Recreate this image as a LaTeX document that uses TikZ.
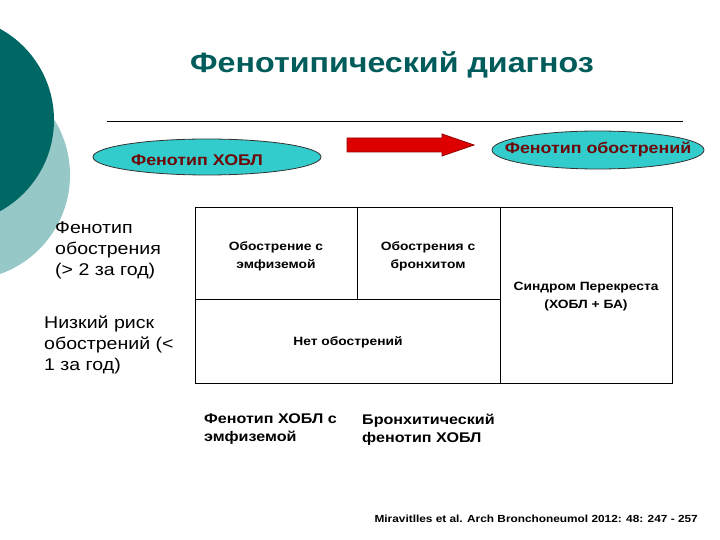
\documentclass[tikz,border=0pt]{standalone}
\usepackage{fontspec}
\setmainfont{Liberation Sans}[FakeStretch=1.15]
\usetikzlibrary{shapes.geometric}
\definecolor{darkteal}{RGB}{0,104,100}
\definecolor{lightteal}{RGB}{150,200,200}
\definecolor{titleteal}{RGB}{0,92,90}
\definecolor{ellfill}{RGB}{51,204,204}
\definecolor{ellred}{RGB}{110,8,8}
\definecolor{arrred}{RGB}{222,0,0}
\definecolor{arrdark}{RGB}{150,0,0}
\tikzset{
  ell/.style={ellipse, draw=black!80, line width=0.8pt, fill=ellfill, inner sep=0pt},
  elltext/.style={font=\fontsize{15.5}{18}\selectfont\bfseries, text=ellred, inner sep=0pt},
  sidetext/.style={font=\fontsize{17}{21}\selectfont, align=left, anchor=north west, inner sep=0pt},
  celltext/.style={font=\fontsize{12}{18}\selectfont\bfseries, align=center, inner sep=0pt},
  bottext/.style={font=\fontsize{14}{18}\selectfont\bfseries, align=left, anchor=north west, inner sep=0pt},
  grid/.style={line width=0.9pt, draw=black},
}
\begin{document}
\begin{tikzpicture}[x=1pt,y=-1pt]
\useasboundingbox (0,0) rectangle (720,540);
\fill[white] (0,0) rectangle (720,540);
% background circles
\begin{scope}
\clip (0,0) rectangle (720,540);
\fill[lightteal] (-35,175) circle (105);
\fill[darkteal] (-50,120) circle (104);
\end{scope}
% title
\node[font=\fontsize{28}{32}\selectfont\bfseries, text=titleteal, inner sep=0pt] (title) at (392,65) {Фенотипический диагноз};
\coordinate (lineL) at (107,121);
\coordinate (lineR) at (683,121);
\draw[line width=0.8pt] (lineL) -- (lineR);
% ellipses
\node[ell, minimum width=228pt, minimum height=36pt] (e1) at (207,157) {};
\node[elltext] (t1) at (197,160) {Фенотип ХОБЛ};
\node[ell, minimum width=212pt, minimum height=38pt] (e2) at (598,150) {};
\node[elltext] (t2) at (598,149) {Фенотип обострений};
% arrow
\filldraw[fill=arrred, draw=arrdark, line width=0.8pt, line join=miter]
  (347,138) -- (442,138) -- (442,134) -- (474,145) -- (442,156) -- (442,152) -- (347,152) -- cycle;
% side labels
\node[sidetext] (s1) at (55,222) {Фенотип\\обострения\\(> 2 за год)};
\node[sidetext] (s2) at (44,316) {Низкий риск\\обострений (<\\1 за год)};
% table
\coordinate (tl) at (195,207);
\coordinate (br) at (672,383);
\draw[grid] (tl) rectangle (br);
\draw[grid] (357,207) -- (357,299);
\draw[grid] (500,207) -- (500,383);
\draw[grid] (195,299) -- (500,299);
\node[celltext] (c1) at (276,256) {Обострение с\\эмфиземой};
\node[celltext] (c2) at (428,256) {Обострения с\\бронхитом};
\node[celltext] (c3) at (586,297) {Синдром Перекреста\\(ХОБЛ + БА)};
\node[celltext] (c4) at (348,342) {Нет обострений};
% bottom labels
\node[bottext] (b1) at (204,414) {Фенотип ХОБЛ с\\эмфиземой};
\node[bottext] (b2) at (362,414) {Бронхитический\\фенотип ХОБЛ};
% citation
\node[font=\fontsize{10.3}{12}\selectfont\bfseries, anchor=east, inner sep=0pt] (cite) at (698,519) {Miravitlles et al. Arch Bronchoneumol 2012: 48: 247 - 257};
\end{tikzpicture}
\end{document}
